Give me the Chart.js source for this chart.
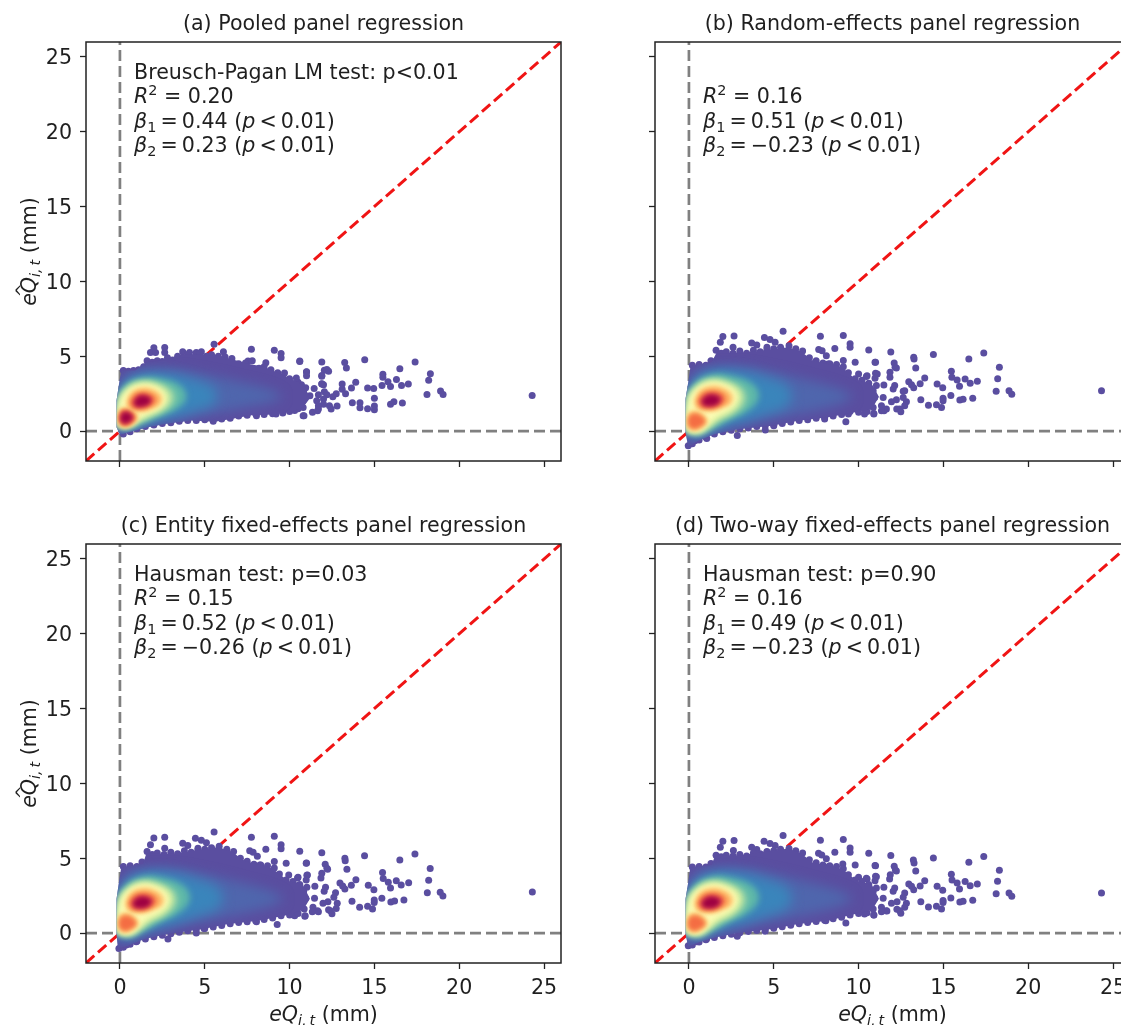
<!DOCTYPE html>
<html>
<head>
<meta charset="utf-8">
<style>
html, body { margin: 0; padding: 0; background: #fff; width: 1121px; height: 1025px; overflow: hidden; position: relative; }
canvas { position: absolute; }
</style>
<script src="https://cdn.jsdelivr.net/npm/chart.js@4"></script>
</head>
<body>
<canvas id="panelA"></canvas>
<canvas id="panelB"></canvas>
<canvas id="panelC"></canvas>
<canvas id="panelD"></canvas>
<script>
const tickValues = [0, 5, 10, 15, 20, 25];
const axisMin = -2;
const axisMax = 26;

const titles = [
  "(a) Pooled panel regression",
  "(b) Random-effects panel regression",
  "(c) Entity fixed-effects panel regression",
  "(d) Two-way fixed-effects panel regression"
];

const identityLine = [[-2, -2], [26, 26]];
const zeroVertical = [[0, -2], [0, 26]];
const zeroHorizontal = [[-2, 0], [26, 0]];

// text runs: '' plain, i italic, sub, sup
const notesA = [
  [["Breusch-Pagan LM test: p<0.01", ""]],
  [["R", "i"], ["2", "sup"], [" = 0.20", ""]],
  [["β", "i"], ["1", "sub"], ["\u2009=\u20090.44 (", ""], ["p", "i"], ["\u2009<\u20090.01)", ""]],
  [["β", "i"], ["2", "sub"], ["\u2009=\u20090.23 (", ""], ["p", "i"], ["\u2009<\u20090.01)", ""]]
];
const notesB = [
  [],
  [["R", "i"], ["2", "sup"], [" = 0.16", ""]],
  [["β", "i"], ["1", "sub"], ["\u2009=\u20090.51 (", ""], ["p", "i"], ["\u2009<\u20090.01)", ""]],
  [["β", "i"], ["2", "sub"], ["\u2009=\u2009−0.23 (", ""], ["p", "i"], ["\u2009<\u20090.01)", ""]]
];
const notesC = [
  [["Hausman test: p=0.03", ""]],
  [["R", "i"], ["2", "sup"], [" = 0.15", ""]],
  [["β", "i"], ["1", "sub"], ["\u2009=\u20090.52 (", ""], ["p", "i"], ["\u2009<\u20090.01)", ""]],
  [["β", "i"], ["2", "sub"], ["\u2009=\u2009−0.26 (", ""], ["p", "i"], ["\u2009<\u20090.01)", ""]]
];
const notesD = [
  [["Hausman test: p=0.90", ""]],
  [["R", "i"], ["2", "sup"], [" = 0.16", ""]],
  [["β", "i"], ["1", "sub"], ["\u2009=\u20090.49 (", ""], ["p", "i"], ["\u2009<\u20090.01)", ""]],
  [["β", "i"], ["2", "sub"], ["\u2009=\u2009−0.23 (", ""], ["p", "i"], ["\u2009<\u20090.01)", ""]]
];

const xLabelRuns = [["eQ", "i"], ["i,\u2009t", "subi"], [" (mm)", ""]];
const yLabelRuns = [["e", "i"], ["^", "hat"], ["Q", "i"], ["i,\u2009t", "subi"], [" (mm)", ""]];

// Spectral_r steps, low density to high
const densityColors = ["#4f66ad", "#3a85bb", "#5fb9a8", "#a4dba5", "#e2f39a", "#fdfcb8", "#fee08b", "#fdae61", "#f46d43", "#d53e4f", "#9e0142"];
const cloudColor = "#5a4ea0";

// outer edge of the dense cloud
const hullA = [[0.08,4.05],[0.9,4.05],[1.55,4.6],[3,4.85],[3.8,5.1],[4.8,5.1],[5.8,5.05],[6.6,4.8],[7.55,4.5],[8.5,4.3],[9.1,4],[10.1,3.5],[10.9,3],[11.2,2.2],[10.8,1.6],[10.2,1.3],[9.1,1.1],[7.75,1.05],[6.55,0.8],[5.6,0.62],[4.2,0.7],[2.65,0.47],[1.65,0.25],[0.47,-0.1],[0,-0.25],[-0.2,0.25],[-0.2,2.05],[-0.02,3.4],[0.08,4.05]];
const hullB = [[0.1,4.38],[1.34,4.6],[1.63,5.25],[3.1,5.25],[3.7,5.3],[5.87,5.6],[6.65,5.3],[7.25,4.71],[9,4.3],[9.8,3.48],[10.8,3.1],[11.2,2.3],[10.8,1.5],[9.8,1.25],[8.2,0.92],[6.45,0.69],[4.88,0.36],[2.9,0.13],[1.53,-0.2],[0.55,-0.65],[-0.04,-1.05],[-0.2,-0.09],[-0.2,2.14],[-0.04,3.26],[0.1,4.38]];
const hullC = [[0.08,4.4],[1.36,4.62],[1.55,5.3],[3.13,5.3],[3.72,5.4],[5.8,5.75],[6.67,5.4],[7.25,4.85],[8.95,4.35],[9.9,3.5],[10.8,3.2],[11.2,2.3],[10.8,1.55],[9.7,1.16],[8.15,0.83],[6.4,0.6],[4.9,0.27],[2.83,-0.07],[1.45,-0.4],[0.47,-0.85],[-0.12,-1.05],[-0.2,-0.07],[-0.2,2.28],[-0.06,3.4],[0.08,4.4]];
const hullD = [[0.08,4.4],[1.34,4.55],[1.53,5.15],[3.1,5.2],[3.7,5.3],[5.87,5.65],[6.65,5.3],[7.25,4.73],[9,4.3],[9.9,3.5],[10.8,3.2],[11.2,2.3],[10.8,1.55],[9.8,1.27],[8.2,0.83],[6.45,0.6],[4.88,0.27],[2.9,0],[1.53,-0.29],[0.55,-0.63],[-0.04,-0.92],[-0.2,-0.07],[-0.2,2.28],[-0.04,3.4],[0.08,4.4]];

// bumpy rim of the cloud
const rimA = [[0.2,4.05],[0.5,4],[0.8,4.05],[1.1,4.1],[1.4,4.3],[1.6,4.7],[1.9,4.6],[2.2,4.7],[2.5,4.65],[2.8,4.9],[3.1,4.75],[3.4,5],[3.7,4.9],[4,5.1],[4.4,4.95],[4.7,5.15],[5.1,5],[5.4,5.1],[5.8,5],[6.2,4.95],[6.6,4.85],[7,4.5],[7.4,4.55],[7.8,4.7],[8.2,4.2],[8.5,4.3],[8.9,4.1],[9.3,3.9],[9.6,3.6],[10,3.5],[10.4,3.55],[10.7,3.1],[10.5,1.5],[10,1.3],[9.6,1.2],[9,1.15],[8.5,1.1],[8,1.15],[7.5,1.05],[7,1],[6.5,0.85],[6,0.8],[5.5,0.65],[5,0.75],[4.5,0.7],[4,0.7],[3.5,0.65],[3,0.55],[2.5,0.5],[2,0.4],[1.5,0.3],[1,0.15],[0.6,-0.05],[0.2,-0.2]];
const rimB = [[0.2,4.4],[0.6,4.45],[1,4.4],[1.3,4.7],[1.6,5.4],[1.9,5.2],[2.2,5.3],[2.6,5.2],[3,5.35],[3.4,5.2],[3.8,5.4],[4.2,5.3],[4.6,5.45],[5,5.5],[5.4,5.6],[5.9,5.7],[6.3,5.5],[6.7,5.35],[7.1,4.9],[7.5,4.7],[7.9,4.55],[8.3,4.5],[8.7,4.45],[9.1,4.3],[9.4,3.9],[9.8,3.5],[10.2,3.4],[10.6,3.2],[10.5,1.3],[10,1.25],[9.5,1.3],[9,1.1],[8.5,1],[8,0.9],[7.5,0.85],[7,0.75],[6.5,0.7],[6,0.6],[5.5,0.5],[5,0.4],[4.5,0.35],[4,0.3],[3.5,0.2],[3,0.15],[2.5,0.05],[2,-0.05],[1.5,-0.2],[1,-0.4],[0.6,-0.6],[0.2,-0.85]];
const rimC = [[0.2,4.45],[0.6,4.5],[1,4.45],[1.3,4.75],[1.6,5.45],[1.9,5.25],[2.2,5.35],[2.6,5.25],[3,5.4],[3.4,5.3],[3.8,5.5],[4.2,5.4],[4.6,5.55],[5,5.6],[5.4,5.7],[5.85,5.8],[6.3,5.6],[6.7,5.45],[7.1,5],[7.5,4.8],[7.9,4.6],[8.3,4.55],[8.7,4.5],[9.1,4.35],[9.4,3.95],[9.8,3.55],[10.2,3.45],[10.6,3.25],[10.5,1.3],[10,1.2],[9.5,1.15],[9,1],[8.5,0.9],[8,0.82],[7.5,0.75],[7,0.7],[6.5,0.62],[6,0.5],[5.5,0.4],[5,0.3],[4.5,0.22],[4,0.15],[3.5,0.05],[3,-0.05],[2.5,-0.15],[2,-0.25],[1.5,-0.4],[1,-0.55],[0.6,-0.75],[0.2,-0.95]];
const rimD = [[0.2,4.42],[0.6,4.45],[1,4.42],[1.3,4.65],[1.6,5.2],[1.9,5.1],[2.2,5.2],[2.6,5.15],[3,5.25],[3.4,5.15],[3.8,5.35],[4.2,5.3],[4.6,5.45],[5,5.5],[5.4,5.6],[5.9,5.65],[6.3,5.5],[6.7,5.35],[7.1,4.9],[7.5,4.7],[7.9,4.55],[8.3,4.5],[8.7,4.45],[9.1,4.3],[9.4,3.9],[9.8,3.55],[10.2,3.45],[10.6,3.25],[10.5,1.35],[10,1.3],[9.5,1.2],[9,1.05],[8.5,0.95],[8,0.85],[7.5,0.78],[7,0.7],[6.5,0.62],[6,0.52],[5.5,0.42],[5,0.32],[4.5,0.25],[4,0.18],[3.5,0.1],[3,0.02],[2.5,-0.08],[2,-0.18],[1.5,-0.3],[1,-0.45],[0.6,-0.6],[0.2,-0.8]];

// single points outside the dense cloud
const dotsA = [[2,5.56],[2.64,5.58],[1.8,5.25],[2.1,5.25],[2.64,5.25],[5.55,5.8],[7.75,5.47],[9.1,5.4],[9.5,5.18],[9.5,4.9],[10.6,4.69],[11.9,4.62],[12.05,4.06],[11.9,3.72],[3.7,5.3],[4.1,5.25],[4.5,5.25],[4.8,5.3],[6.1,5.3],[7.55,4.69],[8.6,4.57],[9.7,3.88],[11,3.95],[10.5,3.27],[11.9,3.16],[10.8,1.03],[11.7,1.48],[10.3,1.37],[9.2,1.14],[8.05,1.03],[14.43,4.77],[17.4,4.61],[16.5,4.16],[18.3,3.83],[18.2,3.39],[15.5,3.79],[15.5,3.59],[16.3,3.45],[15.8,3.3],[15.45,3.05],[15.95,2.98],[16.6,3.05],[17,3.14],[14.6,2.87],[14.96,2.85],[13.9,3.27],[13.65,2.87],[15,2.2],[13.7,1.89],[14.15,1.89],[14.15,1.56],[14.6,1.49],[15,1.43],[15,1.67],[15.95,1.8],[16.15,1.96],[16.65,1.87],[18.1,2.45],[18.9,2.67],[19.05,2.45],[24.3,2.38],[13.25,4.59],[13.35,4.21],[10.6,4.65],[12.2,4.12],[12.3,3.99],[11.9,3.67],[11,3.96],[11,3.7],[13.1,3.14],[13.1,2.8],[13.3,2.5],[11.9,3.14],[12,3.1],[11.45,2.85],[10.95,2.9],[12.05,2.63],[12.2,2.43],[12.55,2.3],[12.75,2.5],[11.2,2.36],[11.7,2.43],[12,2.14],[11.6,2.03],[12.8,1.67],[12.45,1.47],[12.35,1.69],[11.65,1.36],[11.35,1.25],[10.85,1.02],[12,1.8],[11.7,1.69],[10.8,2.03],[10.8,1.58]];
const dotsB = [[2,6.32],[2.66,6.36],[1.85,5.94],[5.55,6.67],[4.45,6.25],[4.78,6.12],[5.08,5.94],[3.7,5.89],[4,5.76],[4.6,5.6],[2.6,5.6],[7.75,6.34],[9.1,6.38],[9.5,5.83],[9.5,5.6],[8.6,5.51],[7.65,5.45],[7.85,5.36],[8.1,5.04],[10.6,5.42],[11.9,5.29],[12.1,4.55],[12.15,4.26],[11.85,3.93],[11.85,3.6],[11,4.6],[11.1,3.82],[10.5,3.7],[10,3.82],[9.8,4.6],[9.1,4.71],[8.2,4.49],[7.45,4.6],[2.85,-0.29],[4.5,0.07],[5,0.36],[9.25,0.63],[10.9,1.14],[11.5,1.36],[12.25,1.47],[10.35,1.14],[8,0.8],[9.4,1.14],[1.05,-0.49],[-0.04,-0.98],[0.35,-0.65],[13.25,4.93],[13.27,4.82],[14.41,5.11],[17.38,5.22],[16.5,4.82],[18.3,4.26],[18.2,3.5],[13.37,4.22],[12.23,4.22],[10.97,4.6],[11,3.86],[10.97,3.53],[10.46,3.64],[15.47,4],[15.5,3.59],[15.81,3.42],[15.95,2.99],[16.28,3.48],[16.58,3.19],[17,3.33],[13.9,3.55],[13.63,3.17],[12.96,3.3],[13.12,3.1],[13.25,2.9],[14.63,3.15],[14.96,2.9],[18.11,2.66],[18.87,2.7],[19.03,2.46],[24.32,2.7],[15.44,2.37],[14.98,2.19],[14.98,2.03],[13.67,2.1],[14.12,1.72],[14.59,1.76],[14.89,1.58],[15.97,2.08],[16.16,2.12],[16.73,2.19],[12.63,2.66],[12.72,2.7],[12.13,3.04],[12.04,2.81],[11.49,3.08],[11.05,3.04],[12.23,2.1],[11.94,1.96],[12.82,1.96],[12.63,2.25],[12.72,1.7],[12.43,1.47],[12.49,1.29],[11.64,1.47],[11.35,1.7],[10.9,1.18],[11.35,1.36],[10.86,1.58],[10.36,1.47],[11.45,2.25],[10.95,2.25],[10.46,2.48],[10.46,3.04],[10.07,2.6],[10.86,2.7]];
const dotsC = [[2,6.36],[2.64,6.4],[1.8,5.9],[5.55,6.76],[4.45,6.34],[4.8,6.2],[5.1,6.03],[3.7,6],[4,5.85],[4.6,5.67],[2.64,5.67],[7.75,6.4],[9.1,6.47],[9.5,5.9],[9.5,5.63],[8.6,5.6],[7.65,5.5],[7.85,5.4],[8.1,5.13],[10.6,5.47],[11.9,5.36],[12.1,4.6],[12.2,4.33],[11.9,4],[11.85,3.68],[11,4.69],[11.05,3.88],[10.5,3.73],[9.95,3.88],[9.8,4.67],[9.1,4.78],[8.25,4.55],[7.4,4.69],[2.83,-0.4],[4.5,0],[4.96,0.31],[9.27,0.58],[10.9,1.12],[11.7,1.43],[12.3,1.56],[10.3,1.16],[8.05,0.76],[0.96,-0.58],[-0.06,-1.03],[0.37,-0.8],[13.26,5],[13.28,4.84],[14.42,5.16],[17.39,5.29],[16.5,4.89],[18.29,4.31],[18.2,3.53],[13.38,4.26],[12.24,4.26],[10.98,4.67],[11.02,3.86],[10.98,3.55],[10.47,3.68],[15.48,4.04],[15.52,3.64],[15.82,3.39],[15.95,3.01],[16.29,3.5],[16.58,3.21],[17.02,3.37],[13.91,3.57],[13.64,3.19],[12.97,3.35],[13.13,3.15],[13.26,2.95],[14.64,3.19],[14.97,2.9],[18.12,2.7],[18.88,2.72],[19.04,2.48],[24.31,2.75],[15.44,2.32],[14.99,2.21],[14.99,2.05],[13.68,2.12],[14.13,1.72],[14.6,1.79],[14.89,1.61],[15.97,2.08],[16.19,2.14],[16.74,2.21],[12.71,2.7],[12.12,3.06],[12.04,2.79],[11.49,3.13],[11.02,3.06],[12.26,2.1],[11.97,2],[12.81,1.99],[12.61,2.39],[12.75,1.65],[12.4,1.5],[12.5,1.29],[11.65,1.5],[11.38,1.72],[10.92,1.16],[11.34,1.43],[10.86,1.61],[10.35,1.5],[11.47,2.32],[10.94,2.32],[10.43,2.61],[10.43,3.17],[10.06,2.61],[10.83,2.77]];
const dotsD = [[2,6.14],[2.66,6.18],[1.85,5.74],[5.55,6.52],[4.43,6.14],[4.78,5.98],[5.08,5.85],[3.7,5.74],[4,5.58],[4.6,5.4],[2.62,5.51],[7.75,6.2],[9.1,6.25],[9.5,5.69],[9.5,5.4],[8.6,5.4],[7.64,5.33],[7.83,5.22],[8.1,4.96],[10.6,5.33],[11.9,5.18],[12.1,4.46],[12.17,4.22],[11.87,3.9],[11.83,3.62],[11,4.5],[11.05,3.77],[10.5,3.62],[10,3.73],[9.8,4.55],[9.07,4.62],[8.23,4.44],[7.44,4.5],[2.85,-0.22],[4.49,0.13],[4.98,0.42],[9.25,0.67],[10.9,1.2],[11.67,1.47],[12.26,1.6],[10.35,1.27],[8.07,0.83],[1.04,-0.4],[-0.04,-0.85],[0.45,-0.58],[13.23,4.89],[13.27,4.69],[14.41,5.02],[17.38,5.11],[16.5,4.73],[18.3,4.2],[18.19,3.46],[13.37,4.15],[12.23,4.15],[10.97,4.51],[11,3.79],[10.97,3.5],[10.46,3.66],[15.47,3.93],[15.51,3.55],[15.81,3.35],[15.95,2.95],[16.28,3.44],[16.58,3.17],[17,3.28],[13.9,3.5],[13.63,3.15],[12.96,3.28],[13.12,3.13],[13.25,2.9],[14.63,3.13],[14.96,2.86],[18.11,2.63],[18.87,2.68],[19.03,2.46],[24.32,2.68],[15.44,2.34],[14.98,2.17],[14.98,2.05],[13.67,2.1],[14.12,1.74],[14.59,1.79],[14.89,1.61],[15.97,2.08],[16.16,2.12],[16.73,2.19],[12.72,2.68],[12.13,3.01],[12.04,2.79],[11.49,3.06],[11.05,3.01],[12.27,2.1],[11.94,1.99],[12.82,1.99],[12.63,2.39],[12.72,1.72],[12.43,1.5],[12.49,1.32],[11.64,1.5],[11.35,1.72],[10.9,1.21],[11.35,1.43],[10.86,1.61],[10.36,1.5],[11.45,2.32],[10.95,2.32],[10.46,2.61],[10.46,3.13],[10.07,2.61],[10.86,2.77]];

// density outlines, low to high. Rings wrap the whole cloud, peak and foot are the two hot spots
const ringsA = [
  [[-0.15,0.1],[-0.12,2.3],[0.25,3.4],[1.2,3.95],[3,4.1],[5,3.8],[7,3.3],[9,2.7],[9.5,2.2],[7,1.5],[5,1.1],[3,0.7],[1.5,0.35],[0.4,-0.1],[-0.15,0.1]],
  [[-0.15,0.15],[-0.1,2.3],[0.3,3.3],[1.2,3.8],[2.8,3.85],[4.2,3.5],[5.6,2.8],[5.6,1.9],[4.5,1.35],[3.3,0.95],[2,0.6],[1,0.25],[0.3,-0.05],[-0.15,0.15]],
  [[-0.15,0.2],[-0.1,2.2],[0.35,3.1],[1.3,3.55],[2.5,3.5],[3.6,3],[3.9,2.2],[3.3,1.45],[2.4,1],[1.5,0.6],[0.6,0.2],[-0.15,0.2]],
  [[-0.15,0.3],[-0.08,2.1],[0.45,2.95],[1.3,3.35],[2.3,3.2],[3.1,2.7],[3.2,2],[2.7,1.4],[1.9,0.95],[1.2,0.6],[0.5,0.25],[-0.15,0.3]],
  [[-0.12,0.4],[-0.05,2],[0.5,2.85],[1.3,3.2],[2.2,3.05],[2.8,2.55],[2.85,2],[2.4,1.45],[1.7,1.05],[1.1,0.7],[0.55,0.35],[0.1,0.3],[-0.12,0.4]],
  [[-0.08,0.45],[0,1.85],[0.5,2.75],[1.3,3.1],[2.1,2.95],[2.6,2.5],[2.65,2],[2.25,1.5],[1.6,1.15],[1.05,0.8],[0.65,0.42],[0.2,0.35],[-0.08,0.45]]
];
const peakA = [
  [[0.3,1.9],[0.6,2.6],[1.25,2.95],[2,2.85],[2.5,2.4],[2.5,1.9],[2,1.45],[1.4,1.25],[0.8,1.25],[0.45,1.45],[0.3,1.9]],
  [[0.45,1.95],[0.7,2.5],[1.25,2.8],[1.9,2.7],[2.35,2.3],[2.3,1.85],[1.85,1.55],[1.3,1.35],[0.85,1.35],[0.55,1.55],[0.45,1.95]],
  [[0.6,1.95],[0.85,2.4],[1.3,2.58],[1.85,2.45],[2.1,2.15],[1.95,1.8],[1.5,1.55],[1.05,1.5],[0.7,1.65],[0.6,1.95]],
  [[0.75,1.95],[1,2.3],[1.35,2.42],[1.75,2.3],[1.9,2.05],[1.65,1.75],[1.25,1.62],[0.9,1.65],[0.75,1.95]],
  [[0.85,1.95],[1.1,2.3],[1.45,2.35],[1.78,2.15],[1.68,1.82],[1.25,1.66],[0.95,1.7],[0.85,1.95]]
];
const footA = [
  [[-0.15,0.75],[-0.05,1.4],[0.35,1.6],[0.85,1.35],[1.1,0.9],[0.8,0.45],[0.35,0.2],[-0.05,0.35],[-0.15,0.75]],
  [[-0.1,0.8],[0,1.35],[0.35,1.5],[0.8,1.25],[1,0.88],[0.7,0.48],[0.35,0.3],[0,0.42],[-0.1,0.8]],
  [[-0.05,0.8],[0.05,1.28],[0.38,1.4],[0.75,1.18],[0.88,0.85],[0.62,0.52],[0.33,0.4],[0.05,0.5],[-0.05,0.8]],
  [[0,0.82],[0.1,1.2],[0.4,1.3],[0.7,1.1],[0.78,0.85],[0.55,0.58],[0.3,0.48],[0.1,0.58],[0,0.82]],
  [[0.05,0.85],[0.15,1.16],[0.42,1.24],[0.66,1.05],[0.72,0.85],[0.5,0.62],[0.28,0.54],[0.12,0.64],[0.05,0.85]]
];
// panels b, c and d have almost the same density shape
const ringsB = [
  [[-0.18,-0.3],[-0.15,2.3],[0.25,3.6],[1.2,4.15],[3,4.3],[5,3.95],[7,3.4],[9,2.75],[9.6,2.2],[7,1.25],[5,0.85],[3,0.4],[1.5,-0.05],[0.4,-0.6],[-0.18,-0.3]],
  [[-0.18,-0.2],[-0.12,2.3],[0.3,3.4],[1.2,4],[2.8,4.05],[4.4,3.65],[5.9,2.9],[5.9,1.8],[4.5,1.1],[3.3,0.65],[2,0.25],[1,-0.15],[0.3,-0.45],[-0.18,-0.2]],
  [[-0.18,-0.1],[-0.1,2.25],[0.35,3.2],[1.3,3.75],[2.5,3.7],[3.8,3.1],[4.1,2.2],[3.4,1.3],[2.4,0.75],[1.5,0.2],[0.6,-0.25],[-0.18,-0.1]],
  [[-0.16,0],[-0.08,2.2],[0.45,3.05],[1.3,3.5],[2.3,3.35],[3.2,2.8],[3.35,2],[2.8,1.25],[1.9,0.7],[1.2,0.2],[0.5,-0.15],[-0.16,0]],
  [[-0.14,0.05],[-0.05,2.1],[0.5,2.95],[1.3,3.35],[2.2,3.2],[2.95,2.65],[3,2],[2.5,1.3],[1.75,0.85],[1.2,0.35],[0.65,-0.05],[0.1,-0.1],[-0.14,0.05]],
  [[-0.1,0.1],[0,1.95],[0.5,2.85],[1.3,3.25],[2.1,3.1],[2.75,2.6],[2.8,2],[2.3,1.4],[1.65,1],[1.2,0.55],[0.75,0],[0.2,-0.05],[-0.1,0.1]]
];
const peakB = [
  [[0.25,2],[0.55,2.7],[1.25,3.08],[2,2.98],[2.6,2.5],[2.6,1.95],[2.05,1.55],[1.45,1.3],[0.85,1.3],[0.4,1.5],[0.25,2]],
  [[0.38,2.03],[0.65,2.6],[1.25,2.9],[1.95,2.8],[2.42,2.4],[2.4,1.9],[1.9,1.6],[1.35,1.4],[0.85,1.4],[0.5,1.6],[0.38,2.03]],
  [[0.52,2.03],[0.8,2.48],[1.3,2.68],[1.9,2.55],[2.15,2.2],[2,1.85],[1.55,1.58],[1.05,1.52],[0.65,1.7],[0.52,2.03]],
  [[0.68,2.03],[0.95,2.38],[1.35,2.5],[1.78,2.38],[1.95,2.1],[1.7,1.8],[1.25,1.65],[0.85,1.7],[0.68,2.03]],
  [[0.78,2],[1.05,2.32],[1.45,2.4],[1.8,2.18],[1.68,1.85],[1.25,1.7],[0.9,1.76],[0.78,2]]
];
const footB = [
  [[-0.12,0.55],[-0.05,1.2],[0.35,1.4],[0.85,1.15],[1.15,0.65],[0.8,0.2],[0.35,0],[-0.05,0.15],[-0.12,0.55]],
  [[-0.1,0.6],[0,1.1],[0.35,1.28],[0.8,1.05],[1.02,0.62],[0.72,0.25],[0.35,0.1],[0,0.22],[-0.1,0.6]],
  [[-0.05,0.6],[0.05,1],[0.38,1.14],[0.75,0.95],[0.92,0.6],[0.62,0.3],[0.33,0.18],[0.05,0.3],[-0.05,0.6]]
];

// polygon drawn through the line element, blurred so the steps run together
class DensityBandController extends Chart.LineController {
  draw() {
    const ctx = this.chart.ctx;
    const ds = this.getDataset();
    const meta = this.getMeta();
    ctx.save();
    if (ds.hullIndex !== undefined) {
      ctx.beginPath();
      this.chart.getDatasetMeta(ds.hullIndex).dataset.path(ctx);
      ctx.closePath();
      ctx.clip();
    }
    if (ds.blur) ctx.filter = "blur(" + ds.blur + "px)";
    ctx.fillStyle = ds.backgroundColor;
    ctx.beginPath();
    meta.dataset.path(ctx);
    ctx.closePath();
    ctx.fill();
    ctx.restore();
  }
}
DensityBandController.id = "densityBand";
DensityBandController.defaults = {};
Chart.register(DensityBandController);

function toPoints(list) {
  return list.map(p => ({ x: p[0], y: p[1] }));
}

function fontFor(kind, size) {
  const s = (kind === "sub" || kind === "subi" || kind === "sup") ? size * 0.7 : size;
  const italic = (kind === "i" || kind === "subi" || kind === "hat") ? "italic " : "";
  return italic + s + "px 'DejaVu Sans'";
}

// writes mixed italic / sub / sup text from its left end
function drawRuns(ctx, runs, x, y, size) {
  let cx = x;
  runs.forEach(r => {
    const text = r[0], kind = r[1];
    ctx.font = fontFor(kind, size);
    let dy = 0;
    if (kind === "sub" || kind === "subi") dy = size * 0.2;
    if (kind === "sup") dy = -size * 0.42;
    if (kind === "hat") {
      ctx.font = size * 0.8 + "px 'DejaVu Sans'";
      ctx.fillText(text, cx - size * 0.2, y - size * 0.42);
      return;
    }
    ctx.fillText(text, cx, y + dy);
    cx += ctx.measureText(text).width;
  });
}

function runsWidth(ctx, runs, size) {
  let w = 0;
  runs.forEach(r => {
    if (r[1] === "hat") return;
    ctx.font = fontFor(r[1], size);
    w += ctx.measureText(r[0]).width;
  });
  return w;
}

const fontSize = 20.6;
const inkColor = "#1f1f1f";

const panelText = {
  id: "panelText",
  afterDraw(chart, args, opts) {
    const ctx = chart.ctx;
    const area = chart.chartArea;
    ctx.save();
    ctx.strokeStyle = "#222222";
    ctx.lineWidth = 1.5;
    ctx.strokeRect(area.left, area.top, area.width, area.height);
    ctx.fillStyle = inkColor;
    ctx.textBaseline = "alphabetic";
    ctx.textAlign = "left";
    opts.notes.forEach((line, i) => {
      drawRuns(ctx, line, area.left + 48, area.top + 37 + i * 24.4, fontSize);
    });
    if (opts.xLabel) {
      const w = runsWidth(ctx, xLabelRuns, fontSize);
      drawRuns(ctx, xLabelRuns, area.left + area.width / 2 - w / 2, area.bottom + 57.5, fontSize);
    }
    if (opts.yLabel) {
      const w = runsWidth(ctx, yLabelRuns, fontSize);
      ctx.translate(area.left - 50, area.top + area.height / 2);
      ctx.rotate(-Math.PI / 2);
      drawRuns(ctx, yLabelRuns, -w / 2, 0, fontSize);
    }
    ctx.restore();
  }
};

function dashedLine(list, color, width) {
  return {
    type: "line",
    data: toPoints(list),
    borderColor: color,
    borderWidth: width,
    borderDash: [11, 5],
    pointRadius: 0,
    tension: 0
  };
}

function bandBlur(level) {
  if (level < 2) return 6;
  if (level < 6) return 3;
  return 2;
}

function buildPanel(id, left, top, height, title, notes, hull, rim, dots, rings, peak, foot, showX, showY) {
  const canvas = document.getElementById(id);
  canvas.style.left = left + "px";
  canvas.style.top = top + "px";
  canvas.style.width = "565px";
  canvas.style.height = height + "px";
  canvas.width = 565;
  canvas.height = height;

  const datasets = [
    dashedLine(zeroVertical, "#808080", 2.7),
    dashedLine(zeroHorizontal, "#808080", 2.7),
    dashedLine(identityLine, "#f01414", 3),
    { type: "scatter", data: toPoints(dots.concat(rim)), backgroundColor: cloudColor, borderWidth: 0, pointRadius: 3.5 },
    { type: "densityBand", data: toPoints(hull), backgroundColor: cloudColor, pointRadius: 0, tension: 0 }
  ];
  const hullIndex = datasets.length - 1;
  const band = (r, level) => ({ type: "densityBand", data: toPoints(r), backgroundColor: densityColors[level], pointRadius: 0, tension: 0.4, blur: bandBlur(level), hullIndex: hullIndex });
  rings.forEach((r, i) => datasets.push(band(r, i)));
  peak.forEach((r, i) => {
    datasets.push(band(r, 6 + i));
    if (foot[i]) datasets.push(band(foot[i], 6 + i));
  });
  // later in the list goes on top
  datasets.forEach((d, i) => { d.order = datasets.length - i; });

  const tickFont = { family: "DejaVu Sans", size: fontSize };
  new Chart(canvas, {
    type: "scatter",
    data: { datasets: datasets },
    plugins: [panelText],
    options: {
      responsive: false,
      animation: false,
      events: [],
      layout: { padding: { right: 4 } },
      scales: {
        x: {
          type: "linear", min: axisMin, max: axisMax,
          afterFit: s => { s.height = height - 461; s.paddingLeft = 0; s.paddingRight = 0; },
          afterBuildTicks: s => { s.ticks = tickValues.map(v => ({ value: v })); },
          ticks: { display: showX, autoSkip: false, maxRotation: 0, color: inkColor, font: tickFont, padding: 7, callback: v => v },
          grid: { display: true, drawOnChartArea: false, drawTicks: true, tickLength: 6, tickColor: "#222222", tickWidth: 1.3 },
          border: { display: false }
        },
        y: {
          type: "linear", min: axisMin, max: axisMax,
          afterFit: s => { s.width = 86; },
          afterBuildTicks: s => { s.ticks = tickValues.map(v => ({ value: v })); },
          ticks: { display: showY, autoSkip: false, color: inkColor, font: tickFont, padding: 8, labelOffset: 2, callback: v => v },
          grid: { display: true, drawOnChartArea: false, drawTicks: true, tickLength: 6, tickColor: "#222222", tickWidth: 1.3 },
          border: { display: false }
        }
      },
      plugins: {
        legend: { display: false },
        tooltip: { enabled: false },
        title: {
          display: true, text: title, color: inkColor, fullSize: false,
          font: { family: "DejaVu Sans", size: fontSize, weight: "normal", lineHeight: "20px" },
          padding: { top: 15, bottom: 7 }
        },
        panelText: { notes: notes, xLabel: showX, yLabel: showY }
      }
    }
  });
}

buildPanel("panelA", 0, 0, 502, titles[0], notesA, hullA, rimA, dotsA, ringsA, peakA, footA, false, true);
buildPanel("panelB", 569, 0, 502, titles[1], notesB, hullB, rimB, dotsB, ringsB, peakB, footB, false, false);
buildPanel("panelC", 0, 502, 523, titles[2], notesC, hullC, rimC, dotsC, ringsB, peakB, footB, true, true);
buildPanel("panelD", 569, 502, 523, titles[3], notesD, hullD, rimD, dotsD, ringsB, peakB, footB, true, false);
</script>
</body>
</html>
